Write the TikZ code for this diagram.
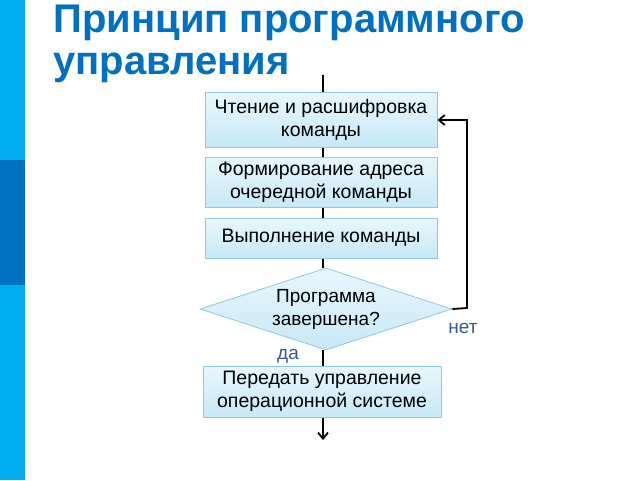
\documentclass[tikz,border=0pt]{standalone}
\usepackage{fontspec}
\setmainfont{Liberation Sans}
\usetikzlibrary{shapes.geometric,arrows.meta}
\definecolor{lb}{HTML}{00AEEF}
\definecolor{db}{HTML}{0070C0}
\definecolor{boxfill}{HTML}{C6E9F8}
\definecolor{boxedge}{HTML}{8FC8E0}
\definecolor{lbl}{HTML}{3A5A8C}
\begin{document}
\begin{tikzpicture}[x=1pt,y=-1pt,
  stepbox/.style={draw=boxedge,line width=0.8pt,top color=white!60!boxfill,bottom color=boxfill,minimum width=232pt,align=center,font=\fontsize{19.5}{23}\selectfont,inner sep=1pt},
  dec/.style={draw=boxedge,line width=0.8pt,diamond,aspect=3.1,top color=white!60!boxfill,bottom color=boxfill,align=center,font=\fontsize{19}{23}\selectfont,minimum width=252pt,minimum height=82pt,inner sep=0pt},
  ln/.style={line width=1.8pt,black},
  tip/.style={-{Straight Barb[length=6pt,width=10pt]}}]
\useasboundingbox (0,0) rectangle (640,480);
\fill[white] (0,0) rectangle (640,480);
\fill[lb] (0,0) rectangle (25,480);
\fill[db] (0,160) rectangle (25,285);
\node[anchor=west,text=db,font=\bfseries\fontsize{40}{42}\selectfont,align=left] (title) at (50,44) {Принцип программного\\управления};
\coordinate (top) at (323,75);
\coordinate (bot) at (323,440);
\draw[ln] (top) -- (323,92);
\draw[ln,tip] (323,417) -- (bot);
\draw[ln] (323,147) -- (323,157);
\draw[ln] (323,207) -- (323,218);
\draw[ln] (323,258) -- (323,268);
\draw[ln] (323,350) -- (323,366);
\node[stepbox,minimum height=55pt] (b1) at (321,119.5) {Чтение и расшифровка\\команды};
\node[stepbox,minimum height=50pt] (b2) at (321,182) {Формирование адреса\\очередной команды};
\node[stepbox,minimum height=40pt] (b3) at (321,238) {Выполнение команды};
\node[dec] (d) at (326,309) {Программа\\завершена?};
\node[stepbox,minimum width=238pt,minimum height=51pt] (b5) at (322,391.5) {Передать управление\\операционной системе};
\coordinate (c1) at (467,308);
\coordinate (c2) at (467,120);
\draw[ln,tip] (d.east) -- (c1) -- (c2) -- (b1.east |- c2);
\node[text=lbl,font=\fontsize{19}{22}\selectfont] (no) at (463,328) {нет};
\node[text=lbl,font=\fontsize{19}{22}\selectfont] (yes) at (288,356) {да};
\end{tikzpicture}
\end{document}
